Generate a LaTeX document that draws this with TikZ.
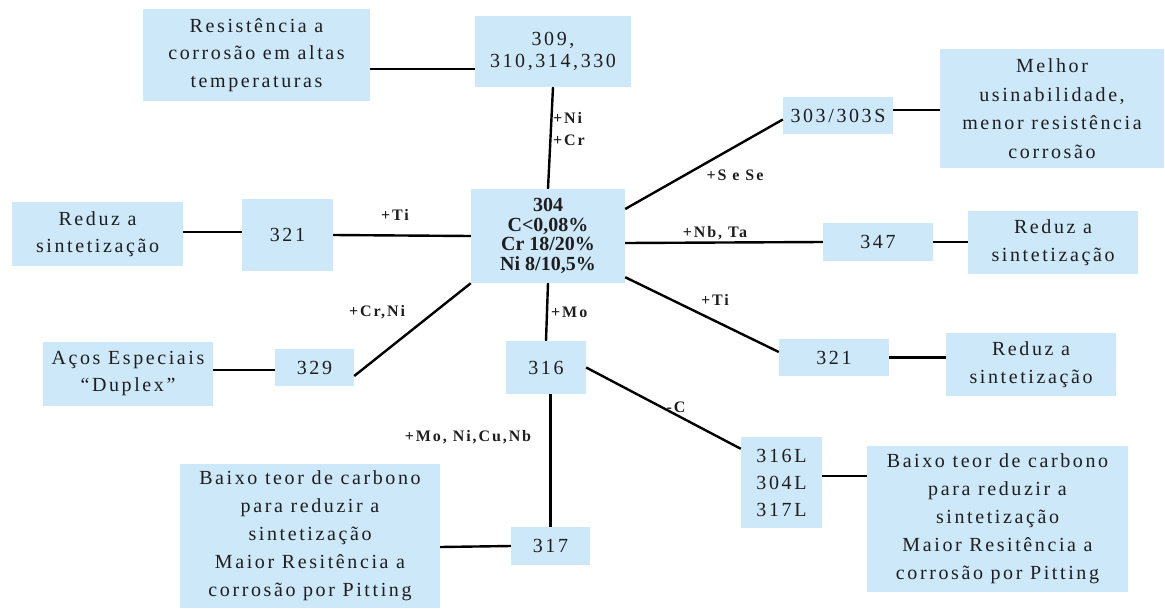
\documentclass[tikz,border=0pt]{standalone}
\usepackage{fontspec}
\setmainfont{Liberation Serif}
\newfontfamily\boxfont[LetterSpace=13]{Liberation Serif}
\newfontfamily\labfont[LetterSpace=12]{Liberation Serif}
\newfontfamily\mainfont{Liberation Serif}
\definecolor{boxblue}{RGB}{204,232,249}
\definecolor{txt}{RGB}{30,30,30}
\begin{document}
\begin{tikzpicture}[x=1pt,y=-1pt,
  box/.style={fill=boxblue, inner sep=0pt, align=center, text=txt,
    font=\boxfont\fontsize{20}{27.5}\selectfont},
  conn/.style={line width=2.4pt, black},
  lab/.style={inner sep=0pt, text=txt, font=\labfont\bfseries\fontsize{16}{22}\selectfont}]
\useasboundingbox (0,0) rectangle (1165,608);
\fill[white] (0,0) rectangle (1165,608);

% boxes
\node[box, minimum width=227pt, minimum height=92pt] (R1) at (256.5,55) {Resistência a\\corrosão em altas\\temperaturas};
\node[box, minimum width=156pt, minimum height=71pt, font=\boxfont\fontsize{20}{22}\selectfont] (B309) at (553,51.5) {309,\\310,314,330};
\node[box, minimum width=154pt, minimum height=94pt, font=\mainfont\bfseries\fontsize{20}{19.5}\selectfont] (B304) at (548,236) {304\\C<0,08\%\\Cr 18/20\%\\Ni 8/10,5\%};
\node[box, minimum width=110pt, minimum height=37pt] (B303) at (838,115.5) {303/303S};
\node[box, minimum width=224pt, minimum height=119pt, font=\boxfont\fontsize{20}{28.5}\selectfont] (Melhor) at (1052,108.5) {Melhor\\usinabilidade,\\menor resistência\\corrosão};
\node[box, minimum width=110pt, minimum height=38pt] (B347) at (878,242) {347};
\node[box, minimum width=170pt, minimum height=63pt] (R347) at (1053,242.5) {Reduz a\\sintetização};
\node[box, minimum width=110pt, minimum height=37pt] (B321R) at (834,357.5) {321};
\node[box, minimum width=170pt, minimum height=63pt] (R321R) at (1031,364.5) {Reduz a\\sintetização};
\node[box, minimum width=80pt, minimum height=53pt] (B316) at (546,367.5) {316};
\node[box, minimum width=81pt, minimum height=91pt, font=\boxfont\fontsize{20}{27}\selectfont] (B316L) at (781.5,482.5) {316L\\304L\\317L};
\node[box, minimum width=261pt, minimum height=146pt, font=\boxfont\fontsize{20}{28}\selectfont] (BaixoR) at (997.5,519) {Baixo teor de carbono\\para reduzir a\\sintetização\\Maior Resitência a\\corrosão por Pitting};
\node[box, minimum width=79pt, minimum height=38pt] (B317) at (550.5,546) {317};
\node[box, minimum width=260pt, minimum height=144pt, font=\boxfont\fontsize{20}{28}\selectfont] (BaixoL) at (310,536) {Baixo teor de carbono\\para reduzir a\\sintetização\\Maior Resitência a\\corrosão por Pitting};
\node[box, minimum width=171pt, minimum height=64pt] (ReduzL) at (97.5,234) {Reduz a\\sintetização};
\node[box, minimum width=91pt, minimum height=72pt] (B321L) at (287.5,235) {321};
\node[box, minimum width=170pt, minimum height=64pt, font=\boxfont\fontsize{20}{27}\selectfont] (Acos) at (128,374) {Aços Especiais\\“Duplex”};
\node[box, minimum width=79pt, minimum height=37pt] (B329) at (314.5,367.5) {329};

% connectors
\draw[conn] ([yshift=-14pt]R1.east) -- ([yshift=-17.5pt]B309.west);
\draw[conn] (B309.south) -- (B304.north);
\draw[conn] ([yshift=27pt]B304.east) -- ([yshift=-4pt]B303.west);
\draw[conn] ([yshift=5.5pt]B303.east) -- ([yshift=-1.5pt]Melhor.west);
\draw[conn] ([yshift=-7pt]B304.east) -- (B347.west);
\draw[conn] (B347.east) -- (B347.east -| R347.west);
\draw[conn] ([yshift=6pt]B304.south east) -- ([yshift=5.5pt]B321R.west);
\draw[conn] (B321R.east) -- (B321R.east -| R321R.west);
\draw[conn] (B304.south) -- (B316.north);
\draw[conn] (B316.east) -- ([yshift=-12pt]B316L.north west);
\draw[conn] (B316.south -| B317.north) -- (B317.north);
\draw[conn] ([yshift=-11pt]BaixoL.east) -- (B317.west);
\draw[conn] ([yshift=6.5pt]B316L.east) -- ([yshift=6.5pt]B316L.east -| BaixoR.west);
\draw[conn] ([yshift=2pt]ReduzL.east) -- ([yshift=2pt]ReduzL.east -| B321L.west);
\draw[conn] (B321L.east) -- (B304.west);
\draw[conn] ([yshift=4pt]Acos.east) -- ([yshift=-2.5pt]B329.west);
\draw[conn] ([yshift=-8.5pt]B329.east) -- (B304.south west);

% labels
\node[lab, anchor=west, align=left] (lNiCr) at (553,129) {+Ni\\+Cr};
\node[lab] (lS) at (735,175) {+S e Se};
\node[lab] (lNb) at (715,233) {+Nb, Ta};
\node[lab] (lTiR) at (715,300) {+Ti};
\node[lab] (lTiL) at (395,215) {+Ti};
\node[lab] (lCrNi) at (377,312) {+Cr,Ni};
\node[lab, anchor=west] (lMo) at (551,312) {+Mo};
\node[lab] (lC) at (676,407) {-C};
\node[lab] (lMo2) at (468,437) {+Mo, Ni,Cu,Nb};
\end{tikzpicture}
\end{document}
